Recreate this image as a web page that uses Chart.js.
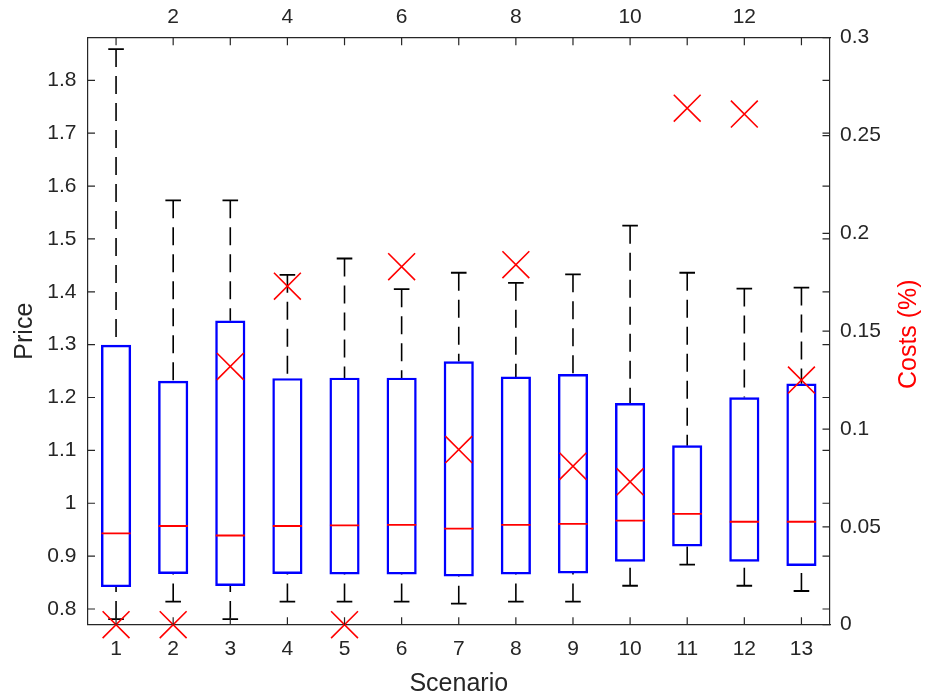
<!DOCTYPE html>
<html>
<head>
<meta charset="utf-8">
<script src="https://cdn.jsdelivr.net/npm/chart.js@4.4.1/dist/chart.umd.min.js"></script>
<style>
  html, body { margin: 0; padding: 0; background: #ffffff; }
  #wrap { position: relative; width: 925px; height: 700px; }
</style>
</head>
<body>
<div id="wrap"><canvas id="c"></canvas></div>
<script>
// ---- data ----
const scenarios = [1, 2, 3, 4, 5, 6, 7, 8, 9, 10, 11, 12, 13];
const scenarioLabels = ['1', '2', '3', '4', '5', '6', '7', '8', '9', '10', '11', '12', '13'];
const topTickValues = [2, 4, 6, 8, 10, 12];
const topTickLabels = ['2', '4', '6', '8', '10', '12'];

const priceQ1 =     [0.842, 0.867, 0.844, 0.867, 0.866, 0.866, 0.862, 0.866, 0.868, 0.890, 0.919, 0.890, 0.882];
const priceQ3 =     [1.299, 1.231, 1.345, 1.236, 1.237, 1.237, 1.268, 1.239, 1.244, 1.189, 1.109, 1.200, 1.226];
const priceMedian = [0.943, 0.957, 0.939, 0.957, 0.958, 0.959, 0.952, 0.959, 0.961, 0.967, 0.980, 0.965, 0.965];
const priceUpper =  [1.859, 1.573, 1.573, 1.432, 1.463, 1.405, 1.436, 1.417, 1.433, 1.525, 1.436, 1.406, 1.408];
const priceLower =  [0.781, 0.814, 0.781, 0.814, 0.814, 0.814, 0.810, 0.814, 0.814, 0.844, 0.884, 0.844, 0.834];

const costs = [0, 0, 0.132, 0.173, 0, 0.183, 0.0895, 0.184, 0.081, 0.073, 0.264, 0.261, 0.125];

const priceTickValues = [0.8, 0.9, 1.0, 1.1, 1.2, 1.3, 1.4, 1.5, 1.6, 1.7, 1.8];
const priceTickLabels = ['0.8', '0.9', '1', '1.1', '1.2', '1.3', '1.4', '1.5', '1.6', '1.7', '1.8'];
const costTickValues = [0, 0.05, 0.1, 0.15, 0.2, 0.25, 0.3];
const costTickLabels = ['0', '0.05', '0.1', '0.15', '0.2', '0.25', '0.3'];

// ---- styles ----
const AXIS = '#262626';
const BLUE = '#0000ff';
const RED = '#ff0000';
const FONT = "'Liberation Sans', Arial, Helvetica, sans-serif";

// ---- derived datasets ----
const boxData = scenarios.map((s, i) => ({ x: s, y: [priceQ1[i], priceQ3[i]] }));
const medianData = scenarios.map((s, i) => ({ x: s, y: priceMedian[i] }));
const capData = [];
scenarios.forEach((s, i) => { capData.push({ x: s, y: priceUpper[i] }); capData.push({ x: s, y: priceLower[i] }); });
const whiskerData = [];
scenarios.forEach((s, i) => {
  whiskerData.push({ x: s, y: priceUpper[i] }, { x: s, y: priceQ3[i] }, { x: s, y: null });
  whiskerData.push({ x: s, y: priceLower[i] }, { x: s, y: priceQ1[i] }, { x: s, y: null });
});
const costData = scenarios.map((s, i) => ({ x: s, y: costs[i] }));

const setTicks = (vals) => (scale) => { scale.ticks = vals.map(v => ({ value: v })); };

const inwardTicks = {
  id: 'inwardTicks',
  afterDraw(chart) {
    const { ctx, chartArea: a, scales } = chart;
    const L = 7.5;
    ctx.save();
    ctx.strokeStyle = AXIS;
    ctx.lineWidth = 1.2;
    ctx.beginPath();
    scales.x.ticks.forEach(t => { const p = scales.x.getPixelForValue(t.value); ctx.moveTo(p, a.bottom); ctx.lineTo(p, a.bottom - L); });
    scales.x2.ticks.forEach(t => { const p = scales.x2.getPixelForValue(t.value); ctx.moveTo(p, a.top); ctx.lineTo(p, a.top + L); });
    scales.y.ticks.forEach(t => {
      const p = scales.y.getPixelForValue(t.value);
      ctx.moveTo(a.left, p); ctx.lineTo(a.left + L, p);
      ctx.moveTo(a.right, p); ctx.lineTo(a.right - L, p);
    });
    scales.y2.ticks.forEach(t => { const p = scales.y2.getPixelForValue(t.value); ctx.moveTo(a.right, p); ctx.lineTo(a.right - L, p); });
    ctx.stroke();
    // right axis title (reads bottom to top)
    ctx.fillStyle = RED;
    ctx.font = '25px ' + FONT;
    ctx.textAlign = 'center';
    ctx.textBaseline = 'middle';
    ctx.translate(909, (a.top + a.bottom) / 2 + 3);
    ctx.rotate(-Math.PI / 2);
    ctx.fillText('Costs (%)', 0, 0);
    ctx.restore();
  }
};

new Chart(document.getElementById('c'), {
  type: 'bar',
  data: {
    datasets: [
      {
        type: 'scatter', label: 'Costs', data: costData, xAxisID: 'x', yAxisID: 'y2',
        pointStyle: 'crossRot', pointRadius: 19, pointBorderColor: RED, pointBackgroundColor: RED,
        pointBorderWidth: 1.6, borderColor: RED, clip: false, order: 0
      },
      {
        type: 'scatter', label: 'Median', data: medianData, xAxisID: 'x', yAxisID: 'y',
        pointStyle: 'line', pointRadius: 14.6, pointBorderColor: RED, pointBorderWidth: 1.8, borderColor: RED, order: 1
      },
      {
        type: 'bar', label: 'Box', data: boxData, xAxisID: 'x', yAxisID: 'y',
        backgroundColor: 'rgba(0,0,0,0)', borderColor: BLUE, borderWidth: 1.8, borderSkipped: false,
        barThickness: 29.5, order: 2
      },
      {
        type: 'scatter', label: 'Caps', data: capData, xAxisID: 'x', yAxisID: 'y',
        pointStyle: 'line', pointRadius: 7.8, pointBorderColor: '#000000', pointBorderWidth: 1.8, borderColor: '#000000', order: 3
      },
      {
        type: 'line', label: 'Whiskers', data: whiskerData, xAxisID: 'x', yAxisID: 'y',
        borderColor: '#000000', borderWidth: 1.6, borderDash: [18, 9], pointRadius: 0,
        spanGaps: false, fill: false, order: 4
      }
    ]
  },
  options: {
    responsive: true,
    maintainAspectRatio: false,
    animation: false,
    events: [],
    layout: { padding: 0 },
    plugins: { legend: { display: false }, tooltip: { enabled: false }, title: { display: false } },
    scales: {
      x: {
        type: 'linear', position: 'bottom', min: 0.5, max: 13.5, offset: false,
        afterBuildTicks: setTicks(scenarios),
        afterFit: (s) => { s.height = 75.3; },
        grid: { display: true, drawOnChartArea: false, drawTicks: false, offset: false },
        border: { display: true, color: AXIS, width: 1.2 },
        ticks: {
          color: AXIS, font: { family: FONT, size: 21 }, padding: 12, maxRotation: 0, autoSkip: false,
          callback: (v, i) => scenarioLabels[i]
        },
        title: { display: true, text: 'Scenario', color: AXIS, font: { family: FONT, size: 25 }, padding: { top: 0, bottom: 1 } }
      },
      x2: {
        type: 'linear', position: 'top', min: 0.5, max: 13.5, offset: false,
        afterBuildTicks: setTicks(scenarios),
        afterFit: (s) => { s.height = 37.7; },
        grid: { display: true, drawOnChartArea: false, drawTicks: false, offset: false },
        border: { display: true, color: AXIS, width: 1.2 },
        ticks: {
          color: AXIS, font: { family: FONT, size: 21 }, padding: 8, maxRotation: 0, autoSkip: false,
          callback: (v) => { const k = topTickValues.indexOf(v); return k >= 0 ? topTickLabels[k] : ''; }
        }
      },
      y: {
        type: 'linear', position: 'left', min: 0.7703, max: 1.8806,
        afterBuildTicks: setTicks(priceTickValues),
        afterFit: (s) => { s.width = 87.5; },
        grid: { display: true, drawOnChartArea: false, drawTicks: false },
        border: { display: true, color: AXIS, width: 1.2 },
        ticks: {
          color: AXIS, font: { family: FONT, size: 21 }, padding: 11, autoSkip: false,
          callback: (v, i) => priceTickLabels[i]
        },
        title: { display: true, text: 'Price', color: AXIS, font: { family: FONT, size: 25 }, padding: { top: 10, bottom: 0 } }
      },
      y2: {
        type: 'linear', position: 'right', min: 0, max: 0.3,
        afterBuildTicks: setTicks(costTickValues),
        afterFit: (s) => { s.width = 95; },
        grid: { display: true, drawOnChartArea: false, drawTicks: false },
        border: { display: true, color: AXIS, width: 1.2 },
        ticks: {
          color: AXIS, font: { family: FONT, size: 21 }, padding: 10, autoSkip: false,
          callback: (v, i) => costTickLabels[i]
        }
      }
    }
  },
  plugins: [inwardTicks]
});
</script>
</body>
</html>
